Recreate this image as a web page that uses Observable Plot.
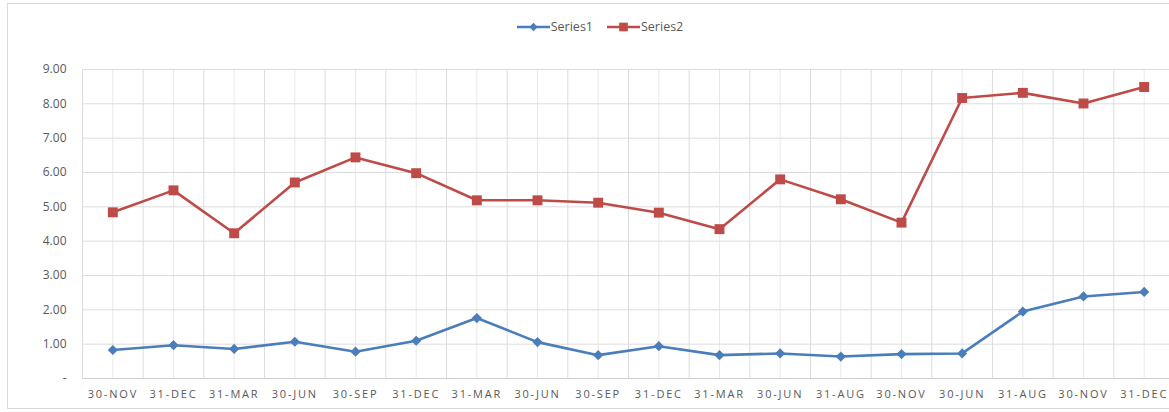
<!DOCTYPE html>
<html>
<head>
<meta charset="utf-8">
<script src="https://cdn.jsdelivr.net/npm/d3@7"></script>
<script src="https://cdn.jsdelivr.net/npm/@observablehq/plot@0.6"></script>
<style>
  html, body { margin: 0; padding: 0; background: #fff; }
  #wrap { position: relative; width: 1169px; height: 412px; overflow: hidden; font-family: "Open Sans", "Noto Sans", sans-serif; }
  #frame { position: absolute; left: 7px; top: 3px; width: 1180px; height: 406px; border: 1px solid #d9d9d9; box-sizing: border-box; pointer-events: none; }
  #legend { position: absolute; top: 18px; left: 0; width: 1200px; display: flex; justify-content: center; gap: 14px; font-size: 12.5px; color: #595959; }
  .item { display: flex; align-items: center; gap: 1px; }
  #chart { position: absolute; left: 0; top: 0; }
  g[aria-label="x-axis tick label"] text { letter-spacing: 1.8px; }
</style>
</head>
<body>
<div id="wrap">
  <div id="frame"></div>
  <div id="chart"></div>
  <div id="legend"></div>
</div>
<script>
const categories = ["30-NOV","31-DEC","31-MAR","30-JUN","30-SEP","31-DEC","31-MAR","30-JUN","30-SEP","31-DEC","31-MAR","30-JUN","31-AUG","30-NOV","30-JUN","31-AUG","30-NOV","31-DEC"];
const series1 = [0.83,0.97,0.86,1.07,0.78,1.10,1.76,1.06,0.68,0.94,0.68,0.73,0.64,0.71,0.73,1.95,2.39,2.52];
const series2 = [4.84,5.48,4.23,5.71,6.44,5.98,5.19,5.19,5.12,4.83,4.35,5.80,5.22,4.54,8.17,8.32,8.01,8.49];
const yTicks = [0,1,2,3,4,5,6,7,8,9];
const seriesNames = ["Series1","Series2"];
const colors = ["#4a7ebb","#be4b48"];

const d1 = categories.map((c, i) => ({i, cat: c, v: series1[i]}));
const d2 = categories.map((c, i) => ({i, cat: c, v: series2[i]}));
const n = categories.length;
const edges = d3.range(0, n + 1).map(k => k - 0.5);
const centers = d3.range(0, n);

const chart = Plot.plot({
  width: 1169,
  height: 412,
  marginLeft: 82,
  marginRight: -5,
  marginTop: 69,
  marginBottom: 34,
  style: { fontFamily: "'Open Sans', 'Noto Sans', sans-serif", background: "transparent", overflow: "visible" },
  x: { type: "linear", domain: [-0.5, n - 0.5], label: null },
  y: { domain: [0, 9], label: null },
  marks: [
    Plot.ruleX(centers, { x: d => d, stroke: "#e9e9e9", strokeWidth: 1 }),
    Plot.ruleX(edges, { x: d => d, stroke: "#dcdcdc", strokeWidth: 1 }),
    Plot.ruleY(yTicks.filter(d => d > 0), { y: d => d, stroke: "#dcdcdc", strokeWidth: 1 }),
    Plot.ruleY([0], { stroke: "#d0d0d0", strokeWidth: 1 }),
    Plot.axisY(yTicks, {
      tickSize: 0, tickPadding: 16, fontSize: 12, fill: "#595959", label: null,
      tickFormat: d => d === 0 ? "-" : d.toFixed(2)
    }),
    Plot.axisX(centers, {
      tickSize: 0, tickPadding: 12, fontSize: 11, fill: "#595959", label: null,
      tickFormat: d => categories[d]
    }),
    Plot.line(d1, { x: "i", y: "v", stroke: colors[0], strokeWidth: 2.6 }),
    Plot.line(d2, { x: "i", y: "v", stroke: colors[1], strokeWidth: 2.6 }),
    Plot.dot(d1, { x: "i", y: "v", fill: colors[0], stroke: null, symbol: "diamond2", r: 4.6 }),
    Plot.dot(d2, { x: "i", y: "v", fill: colors[1], stroke: null, symbol: "square", r: 5.6 })
  ]
});
document.getElementById("chart").appendChild(chart);

// legend
const legend = document.getElementById("legend");
seriesNames.forEach((s, k) => {
  const item = document.createElement("div");
  item.className = "item";
  const sw = document.createElementNS("http://www.w3.org/2000/svg", "svg");
  sw.setAttribute("width", 33); sw.setAttribute("height", 12);
  const ln = document.createElementNS("http://www.w3.org/2000/svg", "line");
  ln.setAttribute("x1", 0); ln.setAttribute("x2", 33); ln.setAttribute("y1", 6); ln.setAttribute("y2", 6);
  ln.setAttribute("stroke", colors[k]); ln.setAttribute("stroke-width", 2.6);
  sw.appendChild(ln);
  const mk = document.createElementNS("http://www.w3.org/2000/svg", "path");
  mk.setAttribute("d", d3.symbol(k === 0 ? d3.symbolDiamond2 : d3.symbolSquare, k === 0 ? 45 : 75)());
  mk.setAttribute("transform", "translate(16.5,6)");
  mk.setAttribute("fill", colors[k]);
  sw.appendChild(mk);
  const t = document.createElement("span");
  t.textContent = s;
  item.appendChild(sw); item.appendChild(t);
  legend.appendChild(item);
});
</script>
</body>
</html>
